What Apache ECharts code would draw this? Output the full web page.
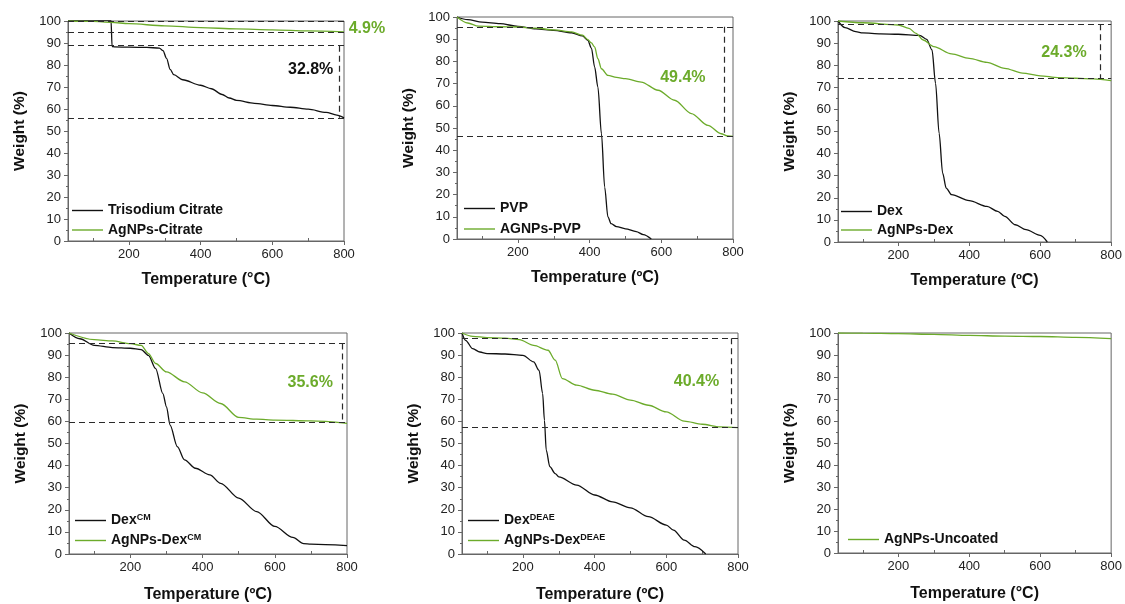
<!DOCTYPE html>
<html>
<head>
<meta charset="utf-8">
<script src="https://cdn.jsdelivr.net/npm/echarts@6/dist/echarts.min.js"></script>
<style>
  html, body { margin: 0; padding: 0; background: #ffffff; }
  #chart { width: 1125px; height: 604px; }
</style>
</head>
<body>
<div id="chart"></div>
<script>
// Temperature axis ticks (°C)
const xTickValues = [200, 400, 600, 800];
const xMinorTickValues = [100, 300, 500, 700];

// Trisodium citrate / AgNPs-Citrate
const citrateTemp = [30, 100, 150, 153, 160, 200, 250, 285, 295, 305, 315, 325, 350, 400, 430, 460, 480, 500, 550, 600, 650, 700, 750, 780, 800];
const citrateWt   = [100.3, 100.3, 100.3, 88.4, 88.2, 88.1, 88.0, 87.7, 86.5, 83.0, 78.0, 75.6, 73.3, 70.8, 69.2, 66.6, 65.0, 63.9, 62.6, 61.6, 60.8, 59.9, 58.5, 57.2, 56.0];
const agCitrateTemp = [30, 100, 150, 200, 300, 400, 500, 600, 700, 800];
const agCitrateWt   = [100, 99.8, 99.4, 98.8, 97.8, 97.0, 96.4, 96.0, 95.5, 95.1];

// PVP / AGNPs-PVP
const pvpTemp = [30, 60, 100, 150, 200, 250, 300, 350, 380, 395, 405, 414, 423, 433, 442, 451, 460, 475, 500, 530, 550, 572];
const pvpWt   = [100, 98.8, 97.7, 97.0, 95.8, 94.7, 94.0, 92.9, 91.5, 89.5, 86.0, 77.5, 68.5, 47.4, 23.4, 10.0, 6.9, 5.6, 4.6, 3.3, 2.0, 0];
const agPvpTemp = [30, 60, 90, 150, 200, 250, 300, 350, 380, 395, 405, 414, 423, 433, 451, 475, 500, 544, 591, 637, 684, 730, 767, 785, 800];
const agPvpWt   = [100, 97.3, 95.9, 95.6, 95.5, 95.0, 94.2, 93.3, 91.8, 89.8, 88.3, 86.5, 81.2, 76.7, 73.7, 72.8, 72.2, 70.7, 67.0, 62.5, 56.5, 51.2, 47.4, 46.4, 46.2];

// Dex / AgNPs-Dex
const dexTemp = [30, 50, 80, 100, 150, 200, 260, 280, 295, 305, 315, 325, 335, 350, 400, 450, 480, 500, 530, 560, 600, 620];
const dexWt   = [100, 97.0, 95.2, 94.6, 94.2, 94.0, 93.5, 91.7, 86.9, 71.8, 49.2, 31.2, 24.4, 21.4, 18.7, 16.1, 13.9, 11.6, 7.8, 5.6, 3.0, 0];
const agDexTemp = [30, 100, 200, 230, 250, 270, 300, 350, 400, 450, 500, 550, 600, 650, 700, 750, 800];
const agDexWt   = [100, 99.2, 98.2, 96.7, 94.4, 91.4, 88.4, 85.1, 83.1, 81.3, 78.6, 76.4, 75.2, 74.4, 74.1, 73.8, 73.0];

// DexCM / AgNPs-DexCM
const dexCmTemp = [30, 60, 100, 150, 200, 230, 250, 270, 290, 300, 310, 330, 350, 380, 420, 450, 500, 550, 600, 650, 680, 700, 800];
const dexCmWt   = [100, 97.4, 94.4, 93.4, 93.1, 92.5, 89.9, 83.9, 72.6, 66.6, 58.3, 48.6, 42.6, 38.8, 35.8, 32.0, 25.3, 19.2, 12.5, 7.5, 4.7, 4.5, 3.8];
const agDexCmTemp = [30, 100, 150, 200, 230, 250, 270, 300, 350, 400, 450, 500, 550, 600, 700, 800];
const agDexCmWt   = [100, 97.0, 96.4, 95.2, 94.4, 90.7, 86.2, 82.4, 77.9, 72.9, 68.1, 61.8, 61.0, 60.6, 60.2, 59.1];

// DexDEAE / AgNPs-DexDEAE
const dexDeaeTemp = [30, 40, 60, 80, 100, 150, 200, 230, 245, 255, 260, 265, 275, 290, 300, 350, 400, 450, 500, 550, 600, 620, 650, 680, 710];
const dexDeaeWt   = [100, 96.7, 92.9, 91.4, 90.7, 90.5, 89.9, 86.9, 83.1, 72.6, 60.5, 47.0, 39.5, 36.4, 34.9, 31.2, 26.7, 23.6, 20.9, 16.9, 13.1, 10.8, 6.3, 3.3, 0];
const agDexDeaeTemp = [30, 60, 100, 150, 190, 230, 270, 290, 310, 350, 400, 450, 500, 550, 600, 650, 700, 750, 800];
const agDexDeaeWt   = [100, 98.5, 97.9, 97.7, 97.0, 94.4, 92.2, 87.7, 79.4, 76.4, 74.1, 72.3, 69.6, 67.3, 64.3, 60.1, 58.7, 57.5, 57.2];

// Uncoated AgNPs
const uncoatedTemp = [30, 100, 200, 300, 400, 500, 600, 700, 800];
const uncoatedWt   = [100, 99.9, 99.7, 99.4, 98.9, 98.6, 98.4, 98.0, 97.4];

// Weight-loss brackets: [upper plateau, residue] in %
const citrateLoss    = [88.8, 56.0];
const agCitrateLoss  = [100, 95.1];
const agPvpLoss      = [95.6, 46.2];
const agDexLoss      = [98.5, 74.2];
const agDexCmLoss    = [95.2, 59.6];
const agDexDeaeLoss  = [97.6, 57.2];

const FONT = '"Liberation Sans", Arial, sans-serif';
const GREEN = '#6cab2b';
const BLACK = '#111111';
const AXIS = '#666666';

const legendText = {
  'DexCM': 'Dex{sup|CM}',
  'AgNPs-DexCM': 'AgNPs-Dex{sup|CM}',
  'DexDEAE': 'Dex{sup|DEAE}',
  'AgNPs-DexDEAE': 'AgNPs-Dex{sup|DEAE}'
};

const panels = [
  {
    grid: { left: 68, top: 21, width: 276, height: 220 },
    xName: 'Temperature (°C)', xNameGap: 31,
    curves: [
      { name: 'Trisodium Citrate', t: citrateTemp, w: citrateWt, color: BLACK },
      { name: 'AgNPs-Citrate', t: agCitrateTemp, w: agCitrateWt, color: GREEN }
    ],
    notes: [
      { loss: agCitrateLoss, at: [864, 96.7], color: GREEN },
      { loss: citrateLoss, at: [707, 77.7], color: BLACK, vx: 787 }
    ],
    legend: { left: 72, top: 203, gap: 4.5 }
  },
  {
    grid: { left: 457, top: 17, width: 276, height: 222 },
    xName: 'Temperature (ºC)', xNameGap: 31,
    curves: [
      { name: 'PVP', t: pvpTemp, w: pvpWt, color: BLACK },
      { name: 'AGNPs-PVP', t: agPvpTemp, w: agPvpWt, color: GREEN }
    ],
    notes: [
      { loss: agPvpLoss, at: [660, 72.8], color: GREEN, vx: 775 }
    ],
    legend: { left: 464, top: 201, gap: 5.5 }
  },
  {
    grid: { left: 838, top: 21, width: 275, height: 221 },
    xName: 'Temperature (ºC)', xNameGap: 31,
    curves: [
      { name: 'Dex', t: dexTemp, w: dexWt, color: BLACK },
      { name: 'AgNPs-Dex', t: agDexTemp, w: agDexWt, color: GREEN }
    ],
    notes: [
      { loss: agDexLoss, at: [667, 85.7], color: GREEN, vx: 769 }
    ],
    legend: { left: 841, top: 204, gap: 3.5 }
  },
  {
    grid: { left: 69, top: 333, width: 278, height: 221 },
    xName: 'Temperature (ºC)', xNameGap: 33,
    curves: [
      { name: 'DexCM', t: dexCmTemp, w: dexCmWt, color: BLACK },
      { name: 'AgNPs-DexCM', t: agDexCmTemp, w: agDexCmWt, color: GREEN }
    ],
    notes: [
      { loss: agDexCmLoss, at: [698, 77.4], color: GREEN, vx: 788 }
    ],
    legend: { left: 75, top: 513, gap: 5 }
  },
  {
    grid: { left: 462, top: 333, width: 276, height: 221 },
    xName: 'Temperature (ºC)', xNameGap: 33,
    curves: [
      { name: 'DexDEAE', t: dexDeaeTemp, w: dexDeaeWt, color: BLACK },
      { name: 'AgNPs-DexDEAE', t: agDexDeaeTemp, w: agDexDeaeWt, color: GREEN }
    ],
    notes: [
      { loss: agDexDeaeLoss, at: [684, 77.9], color: GREEN, vx: 781 }
    ],
    legend: { left: 468, top: 513, gap: 5 }
  },
  {
    grid: { left: 838, top: 333, width: 276, height: 220 },
    xName: 'Temperature (°C)', xNameGap: 33,
    curves: [
      { name: 'AgNPs-Uncoated', t: uncoatedTemp, w: uncoatedWt, color: GREEN }
    ],
    notes: [],
    legend: { left: 848, top: 532, gap: 5 }
  }
];

const grid = [], xAxis = [], yAxis = [], series = [], legend = [];

panels.forEach((p, i) => {
  grid.push(Object.assign({ show: true, borderColor: AXIS, borderWidth: 1, backgroundColor: 'transparent' }, p.grid));

  // main temperature axis with outward major ticks and labels
  xAxis.push({
    gridIndex: i, type: 'value', min: 30, max: 800, position: 'bottom',
    name: p.xName, nameLocation: 'middle', nameGap: p.xNameGap,
    nameTextStyle: { fontFamily: FONT, fontSize: 16, fontWeight: 'bold', color: BLACK },
    axisLine: { show: true, lineStyle: { color: AXIS, width: 1 } },
    axisTick: { show: true, length: 4, customValues: xTickValues, lineStyle: { color: AXIS } },
    axisLabel: { show: true, customValues: xTickValues, margin: 7, fontFamily: FONT, fontSize: 13, color: '#222' },
    splitLine: { show: false }
  });
  // overlay axis carrying the inward minor ticks
  xAxis.push({
    gridIndex: i, type: 'value', min: 30, max: 800, position: 'bottom',
    axisLine: { show: false },
    axisTick: { show: true, inside: true, length: 3, customValues: xMinorTickValues, lineStyle: { color: AXIS } },
    axisLabel: { show: false },
    splitLine: { show: false }
  });

  yAxis.push({
    gridIndex: i, type: 'value', min: 0, max: 100, interval: 10,
    name: 'Weight (%)', nameLocation: 'middle', nameGap: 40, nameRotate: 90,
    nameTextStyle: { fontFamily: FONT, fontSize: 15.5, fontWeight: 'bold', color: BLACK },
    axisLine: { show: true, lineStyle: { color: AXIS, width: 1 } },
    axisTick: { show: true, length: 4, lineStyle: { color: AXIS } },
    minorTick: { show: true, splitNumber: 2, length: 2, lineStyle: { color: AXIS } },
    axisLabel: { margin: 7, fontFamily: FONT, fontSize: 13, color: '#222' },
    splitLine: { show: false }, minorSplitLine: { show: false }
  });

  // dashed brackets and weight-loss labels
  if (p.notes.length) {
    const lines = [];
    p.notes.forEach(n => {
      lines.push({ yAxis: n.loss[0] }, { yAxis: n.loss[1] });
      if (n.vx !== undefined) {
        lines.push([{ coord: [n.vx, n.loss[0]] }, { coord: [n.vx, n.loss[1]] }]);
      }
    });
    series.push({
      type: 'scatter', xAxisIndex: 2 * i, yAxisIndex: i,
      symbolSize: 0, clip: false, silent: true, z: 1,
      itemStyle: { opacity: 1 },
      data: p.notes.map(n => ({
        value: n.at,
        label: {
          show: true, position: 'inside', opacity: 1,
          formatter: (n.loss[0] - n.loss[1]).toFixed(1) + '%',
          fontFamily: FONT, fontSize: 16, fontWeight: 'bold', color: n.color
        }
      })),
      markLine: {
        symbol: 'none', silent: true, animation: false,
        label: { show: false },
        lineStyle: { type: [6, 4], color: '#2a2a2a', width: 1.2, opacity: 1 },
        data: lines
      }
    });
  }

  p.curves.forEach(c => {
    series.push({
      name: c.name, type: 'line', xAxisIndex: 2 * i, yAxisIndex: i,
      data: c.t.map((t, k) => [t, c.w[k]]),
      showSymbol: false, symbol: 'none',
      smooth: 0.3, smoothMonotone: 'x',
      lineStyle: { color: c.color, width: 1.3 },
      itemStyle: { color: c.color },
      z: 3
    });
  });

  legend.push({
    data: p.curves.map(c => c.name),
    left: p.legend.left, top: p.legend.top,
    orient: 'vertical', padding: 0,
    icon: 'rect', itemWidth: 31, itemHeight: 1.4, itemGap: p.legend.gap,
    selectedMode: false,
    formatter: name => legendText[name] || name,
    textStyle: {
      fontFamily: FONT, fontSize: 14, fontWeight: 'bold', color: BLACK, lineHeight: 15,
      rich: {
        sup: { fontFamily: FONT, fontSize: 9, fontWeight: 'bold', color: BLACK, verticalAlign: 'top', lineHeight: 9 }
      }
    }
  });
});

const chart = echarts.init(document.getElementById('chart'), null, { renderer: 'canvas' });
chart.setOption({
  animation: false,
  backgroundColor: '#ffffff',
  grid, xAxis, yAxis, series, legend
});
</script>
</body>
</html>
